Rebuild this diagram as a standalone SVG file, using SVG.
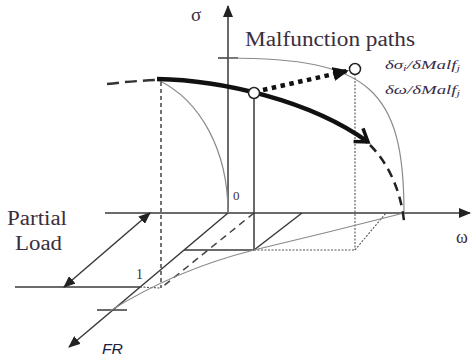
<svg xmlns="http://www.w3.org/2000/svg" width="471" height="364" viewBox="0 0 471 364">
<style>
.ax{stroke:#3a3a3a;stroke-width:1.5;fill:none}
.thin{stroke:#8a8a8a;stroke-width:1.2;fill:none}
.dot{stroke:#555;stroke-width:1.1;stroke-dasharray:2 1.5;fill:none}
.dash{stroke:#444;stroke-width:1.5;stroke-dasharray:7 5;fill:none}
.lbl{font-family:"Liberation Serif","Times New Roman",serif;fill:#3a2e3e}
.it{font-family:"Liberation Serif","Times New Roman",serif;font-style:italic;fill:#3a2e4a}
</style>
<defs>
<marker id="tri" markerUnits="userSpaceOnUse" markerWidth="12" markerHeight="10" refX="11" refY="5" orient="auto-start-reverse">
<path d="M0,0 L12,5 L0,10 z" fill="#222"/>
</marker>
<marker id="chev" markerUnits="userSpaceOnUse" markerWidth="20" markerHeight="20" refX="15" refY="10" orient="auto">
<path d="M3,2 L15,10 L3,18" fill="none" stroke="#111" stroke-width="3.5" stroke-linejoin="miter"/>
</marker>
<marker id="tri2" markerUnits="userSpaceOnUse" markerWidth="16" markerHeight="14" refX="14" refY="7" orient="auto">
<path d="M0,0 L16,7 L0,14 z" fill="#111"/>
</marker>
</defs>
<g id="connectors">
<line class="ax" x1="228" y1="213" x2="228" y2="6" marker-end="url(#tri)"/>
<line class="ax" x1="105" y1="213" x2="470" y2="213" marker-end="url(#tri)"/>
<line class="ax" x1="228" y1="213" x2="69" y2="347" marker-end="url(#tri)"/>
<line class="ax" x1="218" y1="58" x2="238" y2="58"/>
<line class="ax" x1="97" y1="310" x2="127" y2="310"/>
<line class="ax" x1="15" y1="287" x2="140" y2="287"/>
<line class="dot" x1="140" y1="287" x2="161" y2="288"/>
<line class="ax" x1="64" y1="287" x2="150" y2="213" marker-start="url(#tri)" marker-end="url(#tri)"/>
<line stroke="#444" stroke-width="1.5" stroke-dasharray="4 3" x1="161" y1="82" x2="161" y2="288"/>
<line class="dash" x1="254" y1="213" x2="161" y2="288"/>
<line class="ax" x1="184" y1="250" x2="254" y2="250"/>
<line class="ax" x1="254" y1="250" x2="302" y2="213"/>
<line class="dot" x1="254" y1="250" x2="355" y2="250"/>
<line class="dot" x1="355" y1="250" x2="386" y2="213"/>
<line class="dot" x1="355" y1="74" x2="355" y2="250"/>
<line class="ax" x1="254" y1="98" x2="254" y2="250"/>
<path class="thin" d="M110,311 Q175,270 254,250 Q330,232 404,213"/>
<path class="thin" d="M228,58 C369,58 404,89 404,213"/>
<path class="thin" d="M158,80 C200,100 228,150 228,213"/>
<path d="M107,84 Q132,81 157,80" fill="none" stroke="#333" stroke-width="2.5" stroke-dasharray="12 6"/>
<path d="M157,79 C220,80 310,100 368,142" fill="none" stroke="#111" stroke-width="4.5" marker-end="url(#chev)"/>
<path d="M370,145 C385,160 400,185 404,221" fill="none" stroke="#222" stroke-width="2.5" stroke-dasharray="9 6"/>
<path d="M263,90 L347,71" fill="none" stroke="#111" stroke-width="4.5" stroke-dasharray="4.5 4.5" marker-end="url(#tri2)"/>
</g>
<g id="node-1">
<circle cx="254" cy="93" r="5.5" fill="#fff" stroke="#222" stroke-width="1.5"/>
</g>
<g id="node-2">
<circle cx="355" cy="69" r="5.5" fill="#fff" stroke="#222" stroke-width="1.5"/>
</g>
<g id="labels">
<text class="lbl" x="191" y="21" font-size="19">σ</text>
<text class="lbl" x="456" y="243" font-size="18">ω</text>
<text class="lbl" x="233" y="200" font-size="13">0</text>
<text class="lbl" x="136" y="279" font-size="14">1</text>
<text x="102" y="354" font-size="14" font-family="'Liberation Sans',Arial,sans-serif" font-style="italic" fill="#1e2040" textLength="21" lengthAdjust="spacingAndGlyphs">FR</text>
<text class="lbl" x="7" y="225" font-size="20" textLength="60" lengthAdjust="spacingAndGlyphs">Partial</text>
<text class="lbl" x="15" y="250" font-size="20" textLength="47" lengthAdjust="spacingAndGlyphs">Load</text>
<text class="lbl" x="245" y="46" font-size="20" textLength="170" lengthAdjust="spacingAndGlyphs">Malfunction paths</text>
<text class="it" x="385" y="69" font-size="12" textLength="75" lengthAdjust="spacingAndGlyphs">δσ<tspan font-size="8" dy="2">i</tspan><tspan dy="-2">/δMalf</tspan><tspan font-size="8" dy="2">j</tspan></text>
<text class="it" x="385" y="94" font-size="12" textLength="75" lengthAdjust="spacingAndGlyphs">δω/δMalf<tspan font-size="8" dy="2">j</tspan></text>
</g>
</svg>
